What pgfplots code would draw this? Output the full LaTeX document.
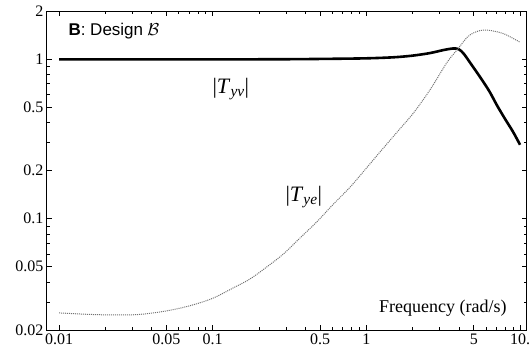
\documentclass[border=0pt]{standalone}
\usepackage{pgfplots}
\pgfplotsset{compat=1.18}
\usepackage{fontspec}
\setmainfont{Liberation Serif}
\newfontfamily\helv{Liberation Sans}
\begin{document}
\begin{tikzpicture}
\begin{axis}[
  xmode=log, ymode=log,
  scale only axis, width=480pt, height=319pt,
  xmin=0.00835, xmax=11.1, ymin=0.02, ymax=2,
  xtick={0.01,0.05,0.1,0.5,1,5,10},
  xticklabels={\mbox{0.01},\mbox{0.05},\mbox{0.1},\mbox{0.5},\mbox{1},\mbox{5},\mbox{10.}},
  ytick={0.02,0.05,0.1,0.2,0.5,1,2},
  yticklabels={\mbox{0.02},\mbox{0.05},\mbox{0.1},\mbox{0.2},\mbox{0.5},\mbox{1},\mbox{2}},
  minor xtick={0.02,0.03,0.04,0.06,0.07,0.08,0.09,0.2,0.3,0.4,0.6,0.7,0.8,0.9,2,3,4,6,7,8,9},
  minor ytick={0.03,0.04,0.06,0.07,0.08,0.09,0.3,0.4,0.6,0.7,0.8,0.9},
  tick align=inside, major tick length=5pt, minor tick length=3pt,
  tick style={black, line width=0.6pt},
  axis line style={line width=1pt},
  ticklabel style={font=\fontsize{16}{18}\selectfont},
  /pgf/number format/assume math mode=true,
  clip=false,
]
\addplot[black, line width=2.6pt, smooth] coordinates {
(0.01,0.995) (0.03,0.995) (0.1,0.995) (0.3,0.997) (0.6,1.003) (1.0,1.01)
(1.5,1.025) (2.0,1.05) (2.6,1.09) (3.2,1.14) (3.7,1.165) (4.0,1.15)
(4.3,1.08) (4.8,0.93) (5.5,0.77) (6.3,0.63) (7.1,0.51) (8.0,0.42) (9.0,0.35) (10,0.29)
};
\addplot[black!55, line width=1pt, densely dotted, smooth] coordinates {
(0.01,0.0256) (0.015,0.0251) (0.02,0.0249) (0.03,0.0249) (0.04,0.0255)
(0.055,0.0268) (0.075,0.0288) (0.1,0.0316) (0.13,0.0359) (0.175,0.0418)
(0.23,0.0505) (0.289,0.060) (0.37,0.0755) (0.477,0.0955) (0.6,0.121)
(0.787,0.158) (1.0,0.207) (1.234,0.263) (1.6,0.352) (2.03,0.46) (2.61,0.646)
(3.35,0.953) (3.94,1.157) (4.53,1.37) (5.0,1.46) (5.53,1.51) (6.0,1.52) (6.42,1.51)
(7.84,1.44) (10,1.275)
};
\node[anchor=west, font=\fontsize{17}{20}\selectfont] at (rel axis cs:0.0375,0.937)
  {{\helv\bfseries B}{\helv : Design} $\mathcal{B}$};
\node[font=\fontsize{22}{26}\selectfont] at (rel axis cs:0.383,0.755)
  {|\textit{T}\textsubscript{\textit{yv}}|};
\node[font=\fontsize{22}{26}\selectfont] at (rel axis cs:0.535,0.417)
  {|\textit{T}\textsubscript{\textit{ye}}|};
\node[anchor=base east, font=\fontsize{18}{21}\selectfont, inner sep=0pt] at (rel axis cs:0.958,0.056)
  {Frequency (rad/s)};
\end{axis}
\pgfresetboundingbox
\path[use as bounding box] ([shift={(-47pt,-24pt)}]current axis.south west) rectangle ([shift={(4pt,11pt)}]current axis.north east);
\end{tikzpicture}
\end{document}
